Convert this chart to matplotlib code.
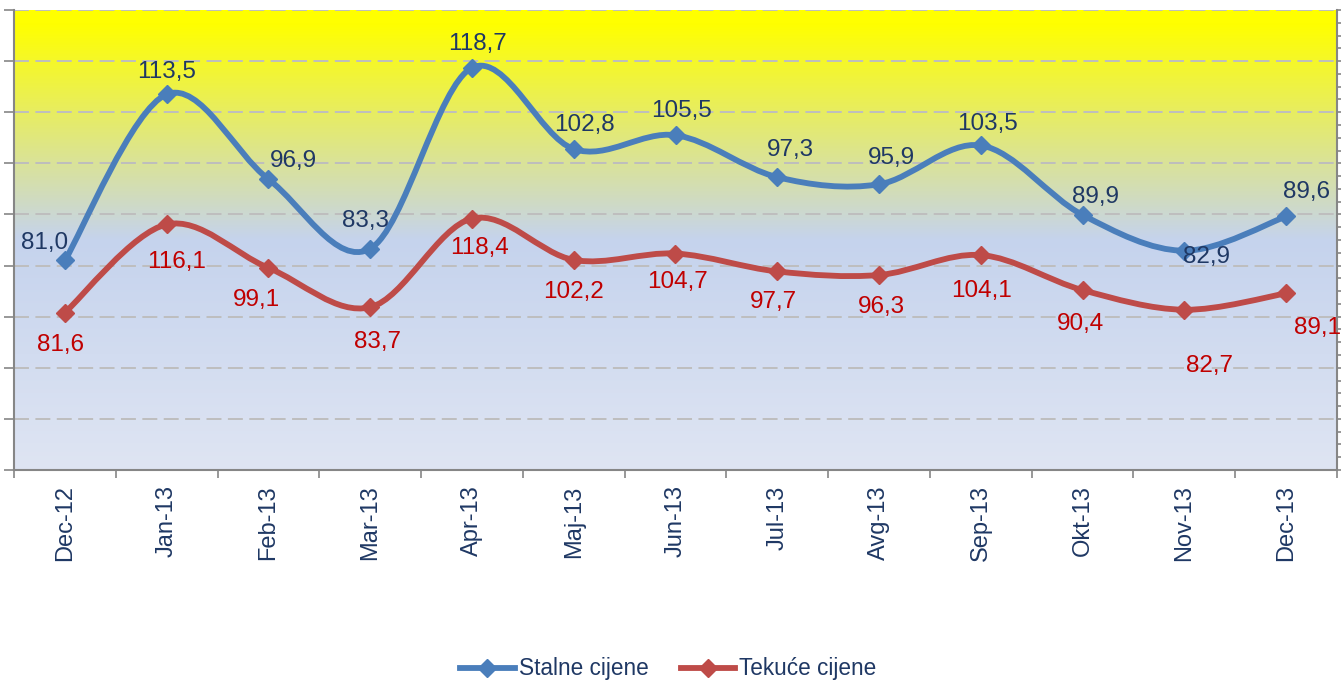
import numpy as np
import matplotlib.pyplot as plt
from matplotlib.path import Path
from matplotlib.patches import PathPatch
from matplotlib.lines import Line2D
from matplotlib.colors import LinearSegmentedColormap

plt.rcParams['font.family'] = ['Liberation Sans', 'DejaVu Sans']

months = ['Dec-12', 'Jan-13', 'Feb-13', 'Mar-13', 'Apr-13', 'Maj-13', 'Jun-13',
          'Jul-13', 'Avg-13', 'Sep-13', 'Okt-13', 'Nov-13', 'Dec-13']
stalne = [81.0, 113.5, 96.9, 83.3, 118.7, 102.8, 105.5, 97.3, 95.9, 103.5, 89.9, 82.9, 89.6]
tekuce = [81.6, 116.1, 99.1, 83.7, 118.4, 102.2, 104.7, 97.7, 96.3, 104.1, 90.4, 82.7, 89.1]

# label offsets in pixels from point to text centre (x right, y up)
off_s = [(-20, 20), (0, 25), (25, 21), (-5, 31), (6, 27), (11, 27), (6, 27),
         (13, 30), (12, 29), (7, 24), (13, 21), (22, -3), (20, 27)]
off_t = [(-4, -29), (10, -35), (-12, -29), (7, -32), (8, -26), (0, -29), (2, -25),
         (-4, -28), (2, -29), (1, -33), (-2, -31), (25, -53), (31, -32)]

blue = '#4A7EBB'
red = '#BE4B48'
navy = '#1F3864'
dred = '#C00000'
gray = '#868686'


def smooth_path(x, y):
    # cubic bezier through the points (catmull-rom style, like Excel's smoothed line)
    n = len(x)
    p = np.column_stack([x, y]).astype(float)
    verts = [p[0]]
    codes = [Path.MOVETO]
    for i in range(n - 1):
        p0 = p[i - 1] if i > 0 else p[i]
        p3 = p[i + 2] if i + 2 < n else p[i + 1]
        c1 = p[i] + (p[i + 1] - p0) / 6
        c2 = p[i + 1] - (p3 - p[i]) / 6
        verts += [c1, c2, p[i + 1]]
        codes += [Path.CURVE4] * 3
    return Path(verts, codes)


fig = plt.figure(figsize=(13.41, 6.81), dpi=100)
ax = fig.add_axes([14 / 1341, 211 / 681, 1323 / 1341, 460 / 681])
ax2 = ax.twinx()

# background gradient
cmap = LinearSegmentedColormap.from_list('bg', [
    (0.0, (223 / 255, 229 / 255, 243 / 255)),
    (0.5, (197 / 255, 211 / 255, 237 / 255)),
    (0.97, (255 / 255, 255 / 255, 0 / 255)),
    (1.0, (255 / 255, 255 / 255, 0 / 255))])
grad = np.linspace(0, 1, 256).reshape(-1, 1)
ax.imshow(grad, extent=[0, 1, 0, 1], origin='lower', transform=ax.transAxes,
          cmap=cmap, aspect='auto', zorder=0)
ax.patch.set_visible(False)

x = np.arange(len(months))
ax.set_xlim(-0.5, 12.5)
ax.set_ylim(40, 130)
ax2.set_ylim(20, 200)

ax.set_yticks(range(40, 131, 10))
ax.yaxis.grid(True, color='#BEBEBE', lw=1.4, ls=(0, (7.7, 3.3)), zorder=1)
ax.set_axisbelow(True)

ax.add_patch(PathPatch(smooth_path(x, stalne), fill=False, ec=blue, lw=4.2,
                       capstyle='round', joinstyle='round', zorder=3))
ax.plot(x, stalne, 'D', color=blue, ms=9, mec=blue, zorder=4)
ax2.add_patch(PathPatch(smooth_path(x, tekuce), fill=False, ec=red, lw=4.2,
                        capstyle='round', joinstyle='round', zorder=3))
ax2.plot(x, tekuce, 'D', color=red, ms=9, mec=red, zorder=4)

for i, v in enumerate(stalne):
    dx, dy = off_s[i]
    ax.annotate(f'{v:.1f}'.replace('.', ','), (x[i], v), xytext=(dx, dy - 9),
                textcoords='offset pixels', ha='center', va='baseline',
                fontsize=17.5, color=navy, zorder=5)
for i, v in enumerate(tekuce):
    dx, dy = off_t[i]
    ax2.annotate(f'{v:.1f}'.replace('.', ','), (x[i], v), xytext=(dx, dy - 9),
                 textcoords='offset pixels', ha='center', va='baseline',
                 fontsize=17.5, color=dred, zorder=5)

# x axis
ax.set_xticks(x)
ax.set_xticklabels(months, rotation=90, fontsize=17, color=navy)
ax.set_xticks(np.arange(-0.5, 13, 1), minor=True)
ax.tick_params(axis='x', which='major', length=0, pad=11)
ax.tick_params(axis='x', which='minor', length=6, width=1.2, color=gray)

# y axes (no labels)
ax.tick_params(axis='y', length=7, width=1.2, color=gray, labelleft=False)
ax2.set_yticks(np.arange(20, 201, 5))
ax2.tick_params(axis='y', length=5, width=1.2, color=gray, labelright=False)

for a in (ax, ax2):
    a.spines['top'].set_visible(False)
ax.spines['right'].set_visible(False)
ax.spines['left'].set_color(gray)
ax.spines['left'].set_linewidth(1.5)
ax.spines['bottom'].set_color(gray)
ax.spines['bottom'].set_linewidth(1.5)
ax2.spines['left'].set_visible(False)
ax2.spines['bottom'].set_visible(False)
ax2.spines['right'].set_color(gray)
ax2.spines['right'].set_linewidth(1.5)

handles = [Line2D([], [], color=blue, lw=4.2, marker='D', ms=9, mec=blue),
           Line2D([], [], color=red, lw=4.2, marker='D', ms=9, mec=red)]
leg = fig.legend(handles, ['Stalne cijene', 'Tekuće cijene'], loc='center',
                 bbox_to_anchor=(0.4985, 1 - 669 / 681), ncol=2, frameon=False,
                 fontsize=16.3, handlelength=2.4, handletextpad=0.2,
                 columnspacing=1.4)
for t in leg.get_texts():
    t.set_color(navy)

fig.savefig('out.png', dpi=100)
